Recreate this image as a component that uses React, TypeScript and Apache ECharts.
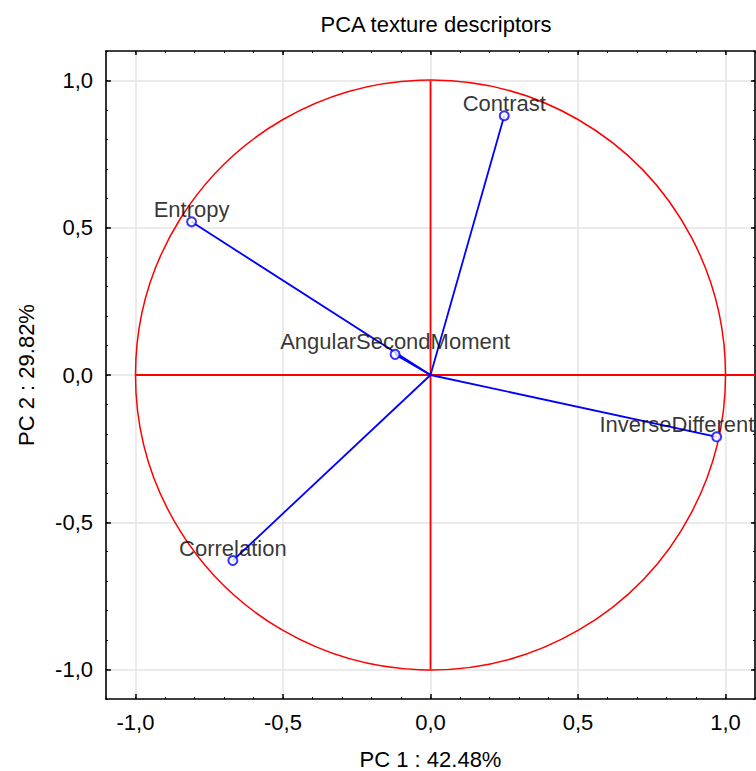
import React, { useEffect, useRef } from "react";
import * as echarts from "echarts";

const variableNames = ["Contrast", "Entropy", "AngularSecondMoment", "InverseDifferentMoment", "Correlation"];
const pc1Values = [0.25, -0.81, -0.12, 0.97, -0.67];
const pc2Values = [0.88, 0.52, 0.07, -0.21, -0.63];

const xTickValues = [-1, -0.5, 0, 0.5, 1];
const xTickLabels = ["-1,0", "-0,5", "0,0", "0,5", "1,0"];
const yTickValues = [-1, -0.5, 0, 0.5, 1];
const yTickLabels = ["-1,0", "-0,5", "0,0", "0,5", "1,0"];

const axisMin = -1.1;
const axisMax = 1.1;
const minorStep = 0.1;
const circleRadius = 1;
const crossHorizontal = [[-1, 0], [1.1, 0]];
const crossVertical = [[0, -1], [0, 1]];

const titleText = "PCA texture descriptors";
const xAxisName = "PC 1 : 42.48%";
const yAxisName = "PC 2 : 29.82%";

const FONT = "'Liberation Sans', Arial, sans-serif";

function lookup(values: number[], labels: string[]) {
  return (v: number) => {
    const i = values.findIndex((t) => Math.abs(t - v) < 1e-6);
    return i >= 0 ? labels[i] : "";
  };
}

function buildAxes(dir: "x" | "y") {
  const positions = dir === "x" ? ["bottom", "top"] : ["left", "right"];
  const ticks = dir === "x" ? xTickValues : yTickValues;
  const labels = dir === "x" ? xTickLabels : yTickLabels;
  const axes: any[] = [];
  positions.forEach((pos, idx) => {
    const primary = idx === 0;
    axes.push({
      type: "value",
      position: pos,
      min: axisMin,
      max: axisMax,
      interval: minorStep,
      axisLine: { show: true, onZero: false, lineStyle: { color: "#000", width: 1.6 } },
      axisTick: { show: true, inside: true, length: 2, lineStyle: { color: "#000", width: 1 } },
      axisLabel: { show: false },
      splitLine: { show: false },
    });
    const ax: any = {
      type: "value",
      position: pos,
      min: axisMin,
      max: axisMax,
      axisLine: { show: false, onZero: false },
      axisTick: {
        show: true,
        inside: true,
        length: primary ? 5 : 4,
        customValues: ticks,
        lineStyle: { color: "#000", width: 1.5 },
      },
      axisLabel: {
        show: primary,
        customValues: ticks,
        formatter: lookup(ticks, labels),
        fontSize: 22,
        fontFamily: FONT,
        color: "#000",
        margin: dir === "x" ? 12 : 13,
      },
      splitLine: { show: primary, lineStyle: { color: "#e4e4e4", width: 1.5 } },
    };
    if (primary) {
      ax.name = dir === "x" ? xAxisName : yAxisName;
      ax.nameLocation = "middle";
      ax.nameGap = dir === "x" ? 51 : 69;
      ax.nameTextStyle = dir === "x"
        ? { fontSize: 22, fontFamily: FONT, color: "#000", lineHeight: 18 }
        : { fontSize: 22, fontFamily: FONT, color: "#000" };
    }
    axes.push(ax);
  });
  return axes;
}

export default function App() {
  const ref = useRef<HTMLDivElement>(null);
  useEffect(() => {
    if (!ref.current) return;
    const chart = echarts.init(ref.current, undefined, { renderer: "svg" });

    const vectorSeries = variableNames.map((name, i) => ({
      type: "line",
      name,
      xAxisIndex: 0,
      yAxisIndex: 0,
      data: [
        [0, 0],
        [pc1Values[i], pc2Values[i]],
      ],
      symbol: "none",
      lineStyle: { color: "#0000ff", width: 1.8 },
      silent: true,
      z: 4,
    }));

    const option: any = {
      animation: false,
      backgroundColor: "#fff",
      textStyle: { fontFamily: FONT },
      title: {
        text: titleText,
        left: 431,
        textAlign: "center",
        top: 8,
        textStyle: { fontSize: 22, fontWeight: "normal", fontFamily: FONT, color: "#000" },
      },
      grid: { left: 106, right: 1, top: 51, bottom: 72, containLabel: false, outerBoundsMode: "none" },
      xAxis: buildAxes("x"),
      yAxis: buildAxes("y"),
      series: [
        {
          type: "custom",
          xAxisIndex: 0,
          yAxisIndex: 0,
          silent: true,
          z: 3,
          data: [[0, 0]],
          renderItem: (params: any, api: any) => {
            const c = api.coord([0, 0]);
            const s = api.size([circleRadius, circleRadius]);
            return {
              type: "circle",
              shape: { cx: c[0], cy: c[1], r: s[0] },
              style: { fill: "none", stroke: "#ff0000", lineWidth: 1.5 },
            };
          },
        },
        {
          type: "line",
          xAxisIndex: 0,
          yAxisIndex: 0,
          data: crossHorizontal,
          symbol: "none",
          lineStyle: { color: "#ff0000", width: 1.8 },
          silent: true,
          z: 3,
        },
        {
          type: "line",
          xAxisIndex: 0,
          yAxisIndex: 0,
          data: crossVertical,
          symbol: "none",
          lineStyle: { color: "#ff0000", width: 1.8 },
          silent: true,
          z: 3,
        },
        ...vectorSeries,
        {
          type: "scatter",
          xAxisIndex: 0,
          yAxisIndex: 0,
          data: variableNames.map((n, i) => ({ name: n, value: [pc1Values[i], pc2Values[i]] })),
          symbol: "emptyCircle",
          symbolSize: 9,
          itemStyle: { color: "#0000ff", borderColor: "#0000ff", borderWidth: 1.5 },
          label: {
            show: true,
            position: "top",
            distance: -4,
            formatter: (p: any) => p.name,
            fontSize: 22,
            fontFamily: FONT,
            color: "#000",
          },
          labelLayout: { hideOverlap: false },
          clip: false,
          z: 5,
        },
      ],
    };
    chart.setOption(option);
    return () => chart.dispose();
  }, []);
  return (
    <div
      ref={ref}
      style={{ position: "absolute", left: 0, top: 0, width: 756, height: 771, background: "#fff" }}
    />
  );
}
